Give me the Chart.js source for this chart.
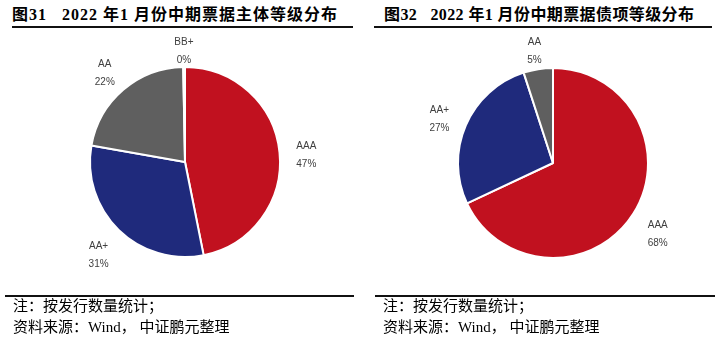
<!DOCTYPE html>
<html>
<head>
<meta charset="utf-8">
<script src="https://cdn.jsdelivr.net/npm/chart.js@4"></script>
<style>
  body {
    margin: 0;
    width: 723px;
    height: 343px;
    position: relative;
    overflow: hidden;
    background: #fff;
    font-family: "Liberation Serif", "Noto Sans CJK SC", serif;
    color: #000;
  }
  .title {
    position: absolute;
    top: 1px;
    font-size: 16px;
    font-weight: bold;
    letter-spacing: 1px;
    white-space: nowrap;
  }
  .rule {
    position: absolute;
    height: 2px;
    background: #111;
  }
  .note {
    position: absolute;
    font-size: 15px;
    line-height: 21px;
    white-space: nowrap;
  }
  canvas {
    position: absolute;
  }
</style>
</head>
<body>
  <div class="title" style="left:12px">图31&nbsp;&nbsp;&nbsp;2022 年1 月份中期票据主体等级分布</div>
  <div class="title" style="left:384px;letter-spacing:0.4px">图32&nbsp;&nbsp;&nbsp;2022 年1 月份中期票据债项等级分布</div>
  <div class="rule" style="left:12px;width:341px;top:26px"></div>
  <div class="rule" style="left:374px;width:338px;top:26px"></div>

  <canvas id="subjectChart" width="350" height="270" style="left:10px;top:27px"></canvas>
  <canvas id="bondChart" width="350" height="270" style="left:378px;top:28px"></canvas>

  <div class="rule" style="left:5px;width:349px;top:295px;height:1.5px"></div>
  <div class="rule" style="left:375px;width:340px;top:295px;height:1.5px"></div>
  <div class="note" style="left:13px;top:296px">注：按发行数量统计；<br>资料来源：Wind，&nbsp;中证鹏元整理</div>
  <div class="note" style="left:383px;top:296px">注：按发行数量统计；<br>资料来源：Wind，&nbsp;中证鹏元整理</div>

<script>
// Issuer rating distribution (图31)
const subjectCategories = ['AAA', 'AA+', 'AA', 'BB+'];
const subjectShares = [47, 31, 22, 0.3];

// Bond rating distribution (图32)
const bondCategories = ['AAA', 'AA+', 'AA'];
const bondShares = [68, 27, 5];

const ratingColors = {
  'AAA': '#c1111f',
  'AA+': '#1f2a7c',
  'AA': '#5f5f5f',
  'BB+': '#5f5f5f',
};

// Draw "name / percent" labels outside each slice
const outsideLabels = {
  id: 'outsideLabels',
  afterDatasetsDraw(chart) {
    const { ctx } = chart;
    const meta = chart.getDatasetMeta(0);
    const values = chart.data.datasets[0].data;
    const names = chart.data.labels;
    const total = values.reduce((a, b) => a + b, 0);

    ctx.save();
    ctx.font = '10px "Liberation Sans", Arial, sans-serif';
    ctx.fillStyle = '#404040';
    ctx.textAlign = 'center';
    ctx.textBaseline = 'middle';

    meta.data.forEach((arc, i) => {
      const { x, y, startAngle, endAngle, outerRadius } = arc.getProps(
        ['x', 'y', 'startAngle', 'endAngle', 'outerRadius'],
        true,
      );
      const mid = (startAngle + endAngle) / 2;
      const dx = Math.cos(mid);
      const dy = Math.sin(mid);
      const dist = outerRadius + 11 + Math.abs(dx) * 15 + Math.abs(dy) * 10;
      const cx = x + dx * dist;
      const cy = y + dy * dist + 5;

      ctx.fillText(names[i], cx, cy - 9);
      ctx.fillText(Math.round((values[i] / total) * 100) + '%', cx, cy + 9);
    });
    ctx.restore();
  },
};

const makePie = (canvasId, labels, values) =>
  new Chart(document.getElementById(canvasId), {
    type: 'pie',
    data: {
      labels,
      datasets: [
        {
          data: values,
          backgroundColor: labels.map((l) => ratingColors[l]),
          borderColor: '#ffffff',
          borderWidth: 2,
        },
      ],
    },
    options: {
      responsive: false,
      animation: false,
      devicePixelRatio: 1,
      layout: {
        padding: { left: 79, right: 79, top: 39, bottom: 39 },
      },
      plugins: {
        legend: { display: false },
        tooltip: { enabled: false },
      },
    },
    plugins: [outsideLabels],
  });

makePie('subjectChart', subjectCategories, subjectShares);
makePie('bondChart', bondCategories, bondShares);
</script>
</body>
</html>
